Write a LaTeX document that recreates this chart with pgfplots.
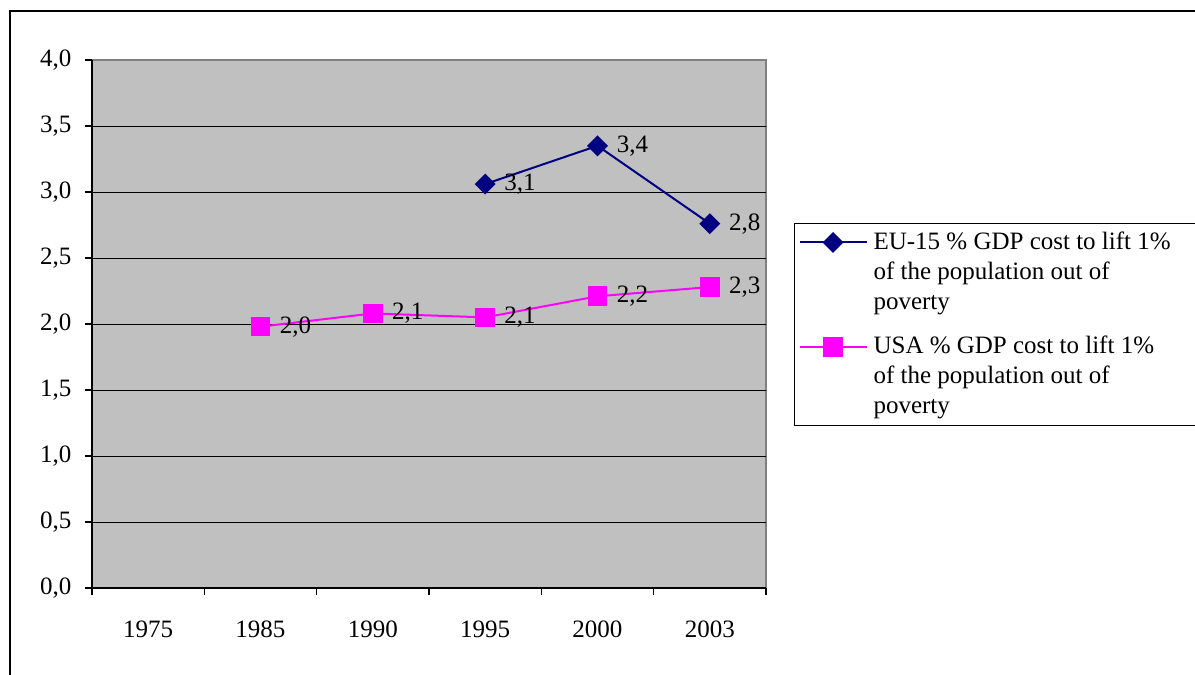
\documentclass[border=0pt]{standalone}
\usepackage{fontspec}
\setmainfont{Liberation Serif}
\usepackage{pgfplots}
\pgfplotsset{compat=1.18}
\definecolor{plotgray}{HTML}{C0C0C0}
\definecolor{eu}{HTML}{000080}
\definecolor{usa}{HTML}{FF00FF}
\begin{document}
\fontsize{12.5}{15}\selectfont
\begin{tikzpicture}
\useasboundingbox (0,0) rectangle (597.5pt,337.5pt);
\draw[line width=1.4pt] (5pt,-3pt) -- (5pt,332pt) -- (601pt,332pt);
\begin{axis}[
  at={(46pt,43.5pt)}, anchor=south west,
  scale only axis, width=337pt, height=264pt,
  xmin=-0.5, xmax=5.5, ymin=0, ymax=4,
  axis lines=left, axis line style={-, black, line width=0.8pt},
  axis background/.style={fill=plotgray, draw=gray, line width=0.8pt},
  tick align=outside,
  xtick={0,1,2,3,4,5}, xticklabels={1975,1985,1990,1995,2000,2003},
  minor xtick={-0.5,0.5,...,5.5},
  major x tick style={draw=none},
  minor x tick style={black, line width=0.6pt},
  minor tick length=3.5pt, major tick length=3.5pt,
  ytick={0,0.5,...,3.5}, extra y ticks={4},
  extra y tick style={ymajorgrids=false},
  ymajorgrids, major grid style={black, line width=0.5pt},
  y tick style={black, line width=0.6pt},
  /pgf/number format/.cd, fixed, fixed zerofill, precision=1, use comma, assume math mode=true,
  /pgfplots/.cd,
  yticklabel style={xshift=-2.5pt},
  xticklabel style={yshift=-8.5pt},
  ticklabel style={font=\fontsize{12.5}{15}\selectfont},
  legend style={at={(axis description cs:1.0415,0.691)}, anchor=north west,
    draw=black, line width=0.6pt, inner xsep=1pt, inner ysep=2pt,
    nodes={inner sep=2pt, font=\fontsize{12.5}{15}\selectfont}, row sep=7.5pt,
    cells={align=left}},
  legend cell align=left,
  legend image code/.code={\path[draw=none, fill=none] (0pt,0pt) -- (36.5pt,0pt);
    \draw[overlay,mark repeat=2,mark phase=2,#1] plot coordinates {(1.5pt,15pt) (18.25pt,15pt) (35pt,15pt)};},
  nodes near coords, point meta=explicit symbolic,
  nodes near coords style={anchor=west, xshift=5pt, text=black, font=\fontsize{12.5}{15}\selectfont},
]
\addplot[eu, line width=1pt, mark=square*, mark size=3.2pt, mark options={rotate=45, fill=eu, draw=eu}]
  table[x=x, y=y, meta=l] {
x y l
3 3.06 {3,1}
4 3.35 {3,4}
5 2.76 {2,8}
};
\addlegendentry{EU-15 \% GDP cost to lift 1\%\hspace{40pt}\mbox{}\\of the population out of\\poverty}
\addplot[usa, line width=1pt, mark=square*, mark size=4.4pt, mark options={fill=usa, draw=usa}]
  table[x=x, y=y, meta=l] {
x y l
1 1.98 {2,0}
2 2.08 {2,1}
3 2.05 {2,1}
4 2.21 {2,2}
5 2.28 {2,3}
};
\addlegendentry{USA \% GDP cost to lift 1\%\\of the population out of\\poverty}
\end{axis}
\end{tikzpicture}
\end{document}
